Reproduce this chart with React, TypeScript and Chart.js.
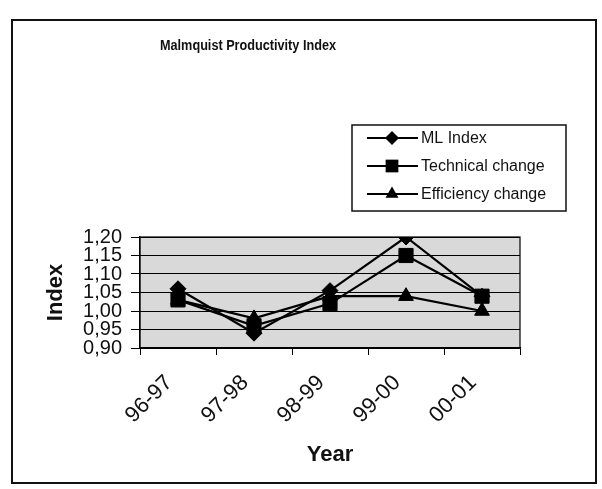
import React, { useEffect, useRef } from "react";
import { Chart, registerables } from "chart.js";

Chart.register(...registerables);

const titleText = "Malmquist Productivity Index";
const categories = ["96-97", "97-98", "98-99", "99-00", "00-01"];
const seriesNames = ["ML Index", "Technical change", "Efficiency change"];
const mlIndex = [1.06, 0.94, 1.055, 1.2, 1.04];
const technicalChange = [1.03, 0.96, 1.02, 1.15, 1.04];
const efficiencyChange = [1.03, 0.98, 1.04, 1.04, 1.0];
const yMin = 0.9;
const yMax = 1.2;
const yStep = 0.05;
const xTitle = "Year";
const yTitle = "Index";

const FONT = "'Liberation Sans', Arial, sans-serif";
const markerStyles = ["rectRot", "rect", "triangle"];
const markerRadii = [8, 10, 8.5];

function drawMarker(ctx: CanvasRenderingContext2D, style: string, x: number, y: number, r: number) {
  ctx.beginPath();
  if (style === "rectRot") {
    ctx.moveTo(x, y - r);
    ctx.lineTo(x + r, y);
    ctx.lineTo(x, y + r);
    ctx.lineTo(x - r, y);
  } else if (style === "rect") {
    const s = Math.SQRT1_2 * r;
    ctx.rect(x - s, y - s, 2 * s, 2 * s);
  } else {
    const h = r * 1.5;
    const w = r * Math.sqrt(3) / 2;
    ctx.moveTo(x, y - r);
    ctx.lineTo(x + w, y + h - r);
    ctx.lineTo(x - w, y + h - r);
  }
  ctx.closePath();
  ctx.fill();
}

const decorPlugin = {
  id: "decor",
  beforeDraw(chart: any) {
    const { ctx, chartArea } = chart;
    ctx.save();
    ctx.fillStyle = "#ffffff";
    ctx.fillRect(0, 0, chart.width, chart.height);
    ctx.fillStyle = "#d9d9d9";
    ctx.fillRect(chartArea.left, chartArea.top, chartArea.right - chartArea.left, chartArea.bottom - chartArea.top);
    ctx.restore();
  },
  afterDraw(chart: any) {
    const { ctx, chartArea } = chart;
    ctx.save();
    // outer border
    ctx.strokeStyle = "#111";
    ctx.lineWidth = 2;
    ctx.strokeRect(12, 20, 584, 463);
    // plot border
    ctx.lineWidth = 1.2;
    ctx.strokeStyle = "#000";
    ctx.strokeRect(chartArea.left, chartArea.top, chartArea.right - chartArea.left, chartArea.bottom - chartArea.top);
    // title
    ctx.fillStyle = "#111";
    ctx.font = `bold 14px ${FONT}`;
    ctx.textAlign = "center";
    ctx.textBaseline = "middle";
    ctx.fillText(titleText, 248, 46, 176);
    // legend
    ctx.lineWidth = 1.5;
    ctx.strokeStyle = "#111";
    ctx.strokeRect(352, 125, 214, 86);
    const rows = [138, 166, 194];
    ctx.font = `16px ${FONT}`;
    ctx.textAlign = "left";
    seriesNames.forEach((name, i) => {
      const y = rows[i];
      ctx.strokeStyle = "#000";
      ctx.lineWidth = 2;
      ctx.beginPath();
      ctx.moveTo(367, y);
      ctx.lineTo(418, y);
      ctx.stroke();
      ctx.fillStyle = "#000";
      drawMarker(ctx, markerStyles[i], 392, y, markerRadii[i] - 1);
      ctx.fillStyle = "#111";
      ctx.fillText(name, 421, y + 1);
    });
    ctx.restore();
  },
};

export default function App() {
  const ref = useRef<HTMLCanvasElement>(null);
  useEffect(() => {
    if (!ref.current) return;
    const series = [mlIndex, technicalChange, efficiencyChange];
    const chart = new Chart(ref.current, {
      type: "line",
      data: {
        labels: categories,
        datasets: series.map((d, i) => ({
          label: seriesNames[i],
          data: d,
          borderColor: "#000",
          backgroundColor: "#000",
          borderWidth: 2.2,
          pointStyle: markerStyles[i] as any,
          pointRadius: markerRadii[i],
          pointBackgroundColor: "#000",
          pointBorderColor: "#000",
          pointBorderWidth: 1,
          tension: 0,
          fill: false,
        })),
      },
      options: {
        responsive: false,
        animation: false,
        layout: { padding: { left: 39, right: 82, top: 237, bottom: 17 } },
        plugins: { legend: { display: false }, title: { display: false }, tooltip: { enabled: false } },
        scales: {
          x: {
            offset: true,
            grid: { offset: true, drawOnChartArea: false, color: "#000", tickLength: 7, tickColor: "#000" },
            border: { display: true, color: "#000", width: 1.2 },
            ticks: { color: "#111", font: { family: FONT, size: 22 }, minRotation: 45, maxRotation: 45, padding: 15, labelOffset: -9, autoSkip: false },
            title: { display: true, text: xTitle, color: "#111", font: { family: FONT, size: 22, weight: "bold" }, padding: { top: 4, bottom: 4 } },
            afterFit: (s: any) => { s.height = 124; },
          },
          y: {
            min: yMin,
            max: yMax,
            grid: { color: "#000", lineWidth: 1, tickLength: 9, tickColor: "#000" },
            border: { display: true, color: "#000", width: 1.2 },
            ticks: {
              stepSize: yStep,
              autoSkip: false,
              color: "#111",
              padding: 9,
              font: { family: FONT, size: 20, lineHeight: 0.9 },
              callback: (v: any) => Number(v).toFixed(2).replace(".", ","),
            },
            title: { display: true, text: yTitle, color: "#111", font: { family: FONT, size: 22, weight: "bold" }, padding: { top: 4, bottom: 4 } },
            afterFit: (s: any) => { s.width = 101; },
          },
        },
      },
      plugins: [decorPlugin],
    });
    return () => chart.destroy();
  }, []);
  return (
    <div style={{ position: "fixed", left: 0, top: 0, width: 602, height: 489, background: "#fff" }}>
      <canvas ref={ref} width={602} height={489} />
    </div>
  );
}
